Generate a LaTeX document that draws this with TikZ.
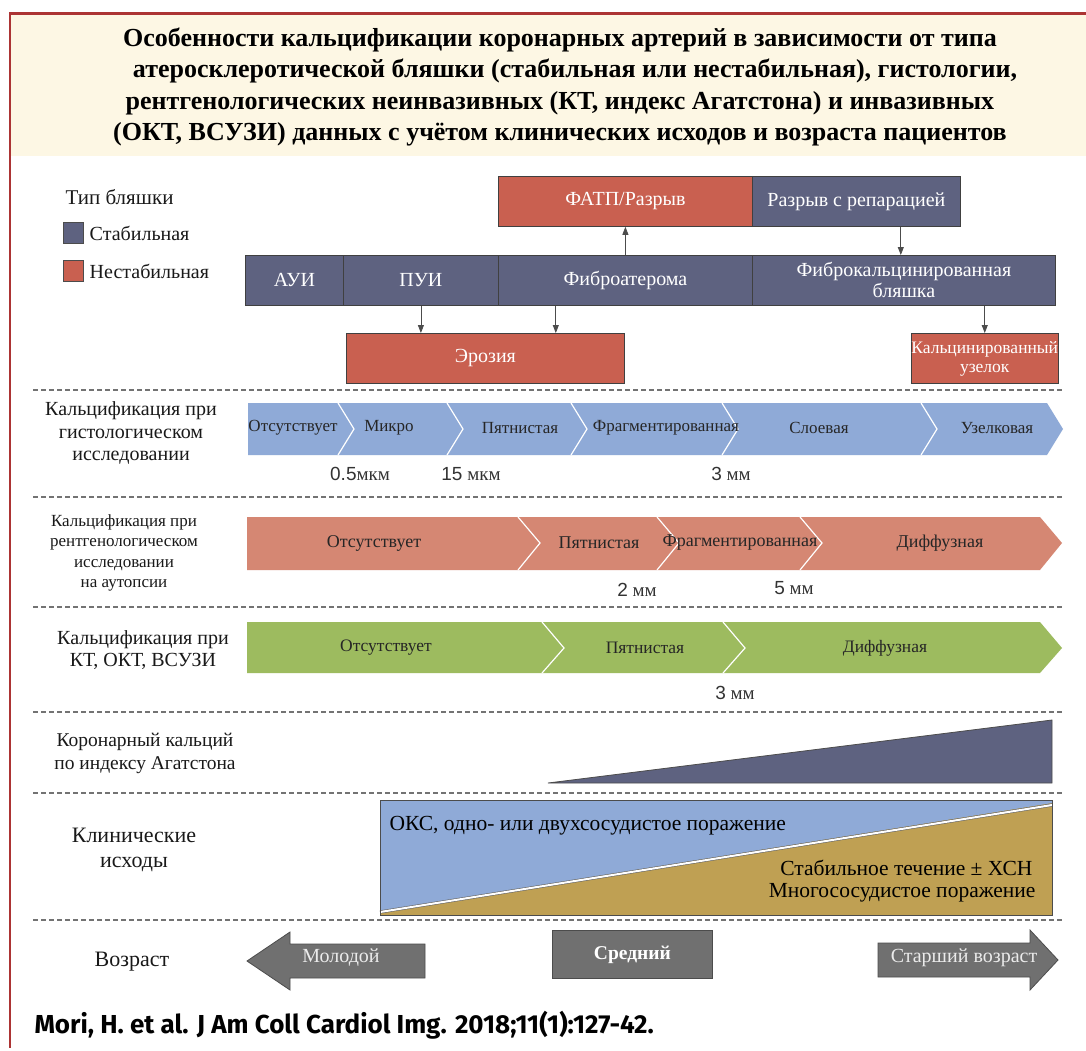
\documentclass[tikz,border=0pt]{standalone}
\usepackage{fontspec}
\setmainfont{Liberation Serif}
\newfontfamily\citefont{Fira Sans}
\newfontfamily\numfont{Liberation Sans}
\usetikzlibrary{positioning,arrows.meta}

\definecolor{stabcol}{RGB}{94,98,128}
\definecolor{unstcol}{RGB}{201,96,80}
\definecolor{histcol}{RGB}{143,170,215}
\definecolor{xraycol}{RGB}{213,135,115}
\definecolor{ctcol}{RGB}{157,187,95}
\definecolor{goldcol}{RGB}{191,160,83}
\definecolor{agecol}{RGB}{112,112,112}
\definecolor{framecol}{RGB}{172,52,52}
\definecolor{titlebg}{RGB}{253,247,228}

\newcommand{\sizelbl}[2]{{\numfont #1}#2}

\begin{document}
\begin{tikzpicture}[x=1pt, y=-1pt,
  plq/.style={draw=black!75, line width=0.8pt, minimum height=50pt, inner sep=0pt,
              text=white, font=\fontsize{20}{21}\selectfont, align=center, anchor=north west},
  stab/.style={plq, fill=stabcol},
  unst/.style={plq, fill=unstcol},
  arr/.style={-{Triangle[length=8pt, width=6pt]}, line width=0.8pt, draw=black!70},
  sep/.style={draw=black!55, line width=1.2pt, dash pattern=on 5pt off 3pt},
  rowlbl/.style={font=\fontsize{20}{22.5}\selectfont, align=center, text=black!90},
  chevtxt/.style={font=\fontsize{17}{19}\selectfont, text=black!85},
  sizetxt/.style={font=\fontsize{19}{21}\selectfont, text=black!80},
  cut/.style={white, line width=1.2pt},
  agetxt/.style={font=\fontsize{20}{22}\selectfont, text=white!92!black},
  clintxt/.style={font=\fontsize{21.5}{24}\selectfont}
]
\useasboundingbox (0,0) rectangle (1086,1050);
\fill[white] (0,0) rectangle (1086,1050);

% ---- frame and title ----
\fill[titlebg] (11,14) rectangle (1086,156);
\draw[framecol, line width=3pt] (9,13) -- (1086,13);
\draw[framecol, line width=2.5pt] (10,12) -- (10,1048);
\node[font=\bfseries\fontsize{26}{31.5}\selectfont, align=center] (title) at (560,87)
  {Особенности кальцификации коронарных артерий в зависимости от типа\\
   \hspace*{30pt}атеросклеротической бляшки (стабильная или нестабильная), гистологии,\\
   рентгенологических неинвазивных (КТ, индекс Агатстона) и инвазивных\\
   (ОКТ, ВСУЗИ) данных с учётом клинических исходов и возраста пациентов};

% ---- legend ----
\node[rowlbl, font=\fontsize{21}{23}\selectfont, anchor=west] (lgd) at (62,197) {Тип бляшки};
\node[draw=black!70, fill=stabcol, minimum width=20pt, minimum height=21pt, inner sep=0pt]
  (sqs) at (73,233) {};
\node[draw=black!70, fill=unstcol, minimum width=20pt, minimum height=21pt, inner sep=0pt]
  (squ) at (73,271) {};
\node[rowlbl, anchor=west, right=3pt of sqs] (lgds) {Стабильная};
\node[rowlbl, anchor=west, right=3pt of squ] (lgdu) {Нестабильная};

% ---- plaque types ----
\node[unst, minimum width=254pt] (fatp) at (498,176) {ФАТП/Разрыв};
\node[stab, minimum width=208pt] (rep)  at (752,176) {Разрыв с репарацией};
\node[stab, minimum width=98pt]  (aui)  at (245,255) {АУИ};
\node[stab, minimum width=155pt] (pui)  at (343,255) {ПУИ};
\node[stab, minimum width=254pt] (fa)   at (498,255) {Фиброатерома};
\node[stab, minimum width=303pt] (fc)   at (752,255) {Фиброкальцинированная\\бляшка};
\node[unst, minimum width=278pt] (ero)  at (346,333) {Эрозия};
\node[unst, minimum width=145pt, font=\fontsize{17.5}{19}\selectfont] (nod) at (911,333)
  {Кальцинированный\\узелок};

\draw[arr] (pui.south) -- (pui.south |- ero.north);
\draw[arr] ([xshift=-69pt]ero.north east |- fa.south) -- ([xshift=-69pt]ero.north east);
\draw[arr] (fa.north) -- (fatp.south);
\draw[arr] ([xshift=-60pt]rep.south east) -- ([xshift=-60pt]rep.south east |- fc.north);
\draw[arr] (nod.north |- fc.south) -- (nod.north);

% ---- separators ----
\foreach \y in {390,497,607,712,793,920}
  \draw[sep] (33,\y) -- (1062,\y);

% ---- histology ----
\node[rowlbl] (lhist) at (131,433) {Кальцификация при\\гистологическом\\исследовании};
\fill[histcol] (248,403) -- (1047,403) -- (1063,429) -- (1047,455) -- (248,455) -- cycle;
\foreach \b in {354,463,587,738,937}
  \draw[cut] (\b-16,403) -- (\b,429) -- (\b-16,455);
\foreach \x/\nm [count=\i] in {293/Отсутствует, 389/Микро, 520/Пятнистая,
    666/Фрагментированная, 819/Слоевая, 997/Узелковая}
  \node[chevtxt] (h\i) at (\x,428) {\nm};
\node[sizetxt] (hs1) at (360,474) {\sizelbl{0.5}{мкм}};
\node[sizetxt] (hs2) at (471,474) {\sizelbl{15}{ мкм}};
\node[sizetxt] (hs3) at (731,474) {\sizelbl{3}{ мм}};

% ---- x-ray at autopsy ----
\node[rowlbl, font=\fontsize{17}{20.5}\selectfont] (lxray) at (124,553)
  {Кальцификация при\\рентгенологическом\\исследовании\\на аутопсии};
\fill[xraycol] (247,517) -- (1040,517) -- (1062,543) -- (1040,570) -- (247,570) -- cycle;
\foreach \b in {540,679,822}
  \draw[cut] (\b-22,517) -- (\b,543) -- (\b-22,570);
\foreach \x/\nm [count=\i] in {374/Отсутствует, 599/Пятнистая,
    740/Фрагментированная, 940/Диффузная}
  \node[chevtxt, font=\fontsize{18}{20}\selectfont] (x\i) at (\x,543) {\nm};
\node[sizetxt] (xs1) at (637,590) {\sizelbl{2}{ мм}};
\node[sizetxt] (xs2) at (794,588) {\sizelbl{5}{ мм}};

% ---- CT, OCT, IVUS ----
\node[rowlbl] (lct) at (143,650) {Кальцификация при\\КТ, ОКТ, ВСУЗИ};
\fill[ctcol] (247,622) -- (1040,622) -- (1062,648) -- (1040,673) -- (247,673) -- cycle;
\foreach \b in {564,745}
  \draw[cut] (\b-22,622) -- (\b,648) -- (\b-22,673);
\foreach \x/\nm [count=\i] in {386/Отсутствует, 645/Пятнистая, 885/Диффузная}
  \node[chevtxt, font=\fontsize{17.5}{20}\selectfont] (c\i) at (\x,648) {\nm};
\node[sizetxt] (cs1) at (735,693) {\sizelbl{3}{ мм}};

% ---- Agatston score ----
\node[rowlbl, font=\fontsize{19.5}{23}\selectfont] (lagt) at (145,753)
  {Коронарный кальций\\по индексу Агатстона};
\filldraw[fill=stabcol, draw=black!70, line width=0.8pt]
  (548,783) -- (1052,720) -- (1052,783) -- cycle;

% ---- clinical outcomes ----
\node[rowlbl, font=\fontsize{22}{25}\selectfont] (lclin) at (134,850) {Клинические\\исходы};
\fill[goldcol] (380,800) rectangle (1052,915);
\fill[histcol] (380,800) -- (1052,800) -- (1052,803) -- (380,911) -- cycle;
\draw[draw=black!60, line width=0.6pt, double=white, double distance=2pt]
  (380,912) -- (1052,805);
\draw[black!70, line width=0.8pt] (380,800) rectangle (1052,915);
\node[clintxt, anchor=west] (acs) at (386,826) {ОКС, одно- или двухсосудистое поражение};
\node[clintxt, anchor=east] (stb) at (1036,868) {Стабильное течение ± ХСН};
\node[clintxt, anchor=east] (mvd) at (1039,893) {Многососудистое поражение};

% ---- age ----
\node[rowlbl, font=\fontsize{22}{24}\selectfont] (lage) at (132,962) {Возраст};
\filldraw[fill=agecol, draw=black!70, line width=0.8pt]
  (247,961) -- (290,932) -- (290,944) -- (425,944) -- (425,978)
  -- (290,978) -- (290,990) -- cycle;
\node[agetxt] (young) at (341,958) {Молодой};
\node[draw=black!70, line width=0.8pt, fill=agecol, anchor=north west,
      minimum width=160pt, minimum height=48pt, font=\bfseries\fontsize{19.5}{21}\selectfont,
      text=white] (mid) at (552,930) {Средний};
\filldraw[fill=agecol, draw=black!70, line width=0.8pt]
  (878,943) -- (1030,943) -- (1030,930) -- (1058,960) -- (1030,990)
  -- (1030,977) -- (878,977) -- cycle;
\node[agetxt] (old) at (964,958) {Старший возраст};

% ---- source ----
\node[font=\citefont\bfseries\fontsize{26}{29}\selectfont, anchor=west] (src) at (31,1025)
  {Mori, H. et al. J Am Coll Cardiol Img. 2018;11(1):127-42.};
\end{tikzpicture}
\end{document}
